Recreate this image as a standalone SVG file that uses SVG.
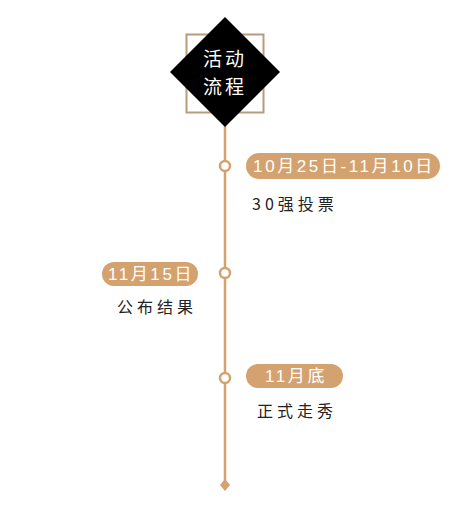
<svg xmlns="http://www.w3.org/2000/svg" width="450" height="511" viewBox="0 0 450 511">
<style>
.pill{fill:#d4a26f}
.pt{font-family:"Liberation Sans","Noto Sans CJK SC",sans-serif;font-size:17px;fill:#ffffff;letter-spacing:2.6px}
.lb{font-family:"Noto Sans CJK SC",sans-serif;font-size:16px;fill:#222222;letter-spacing:4px}
.dot{fill:#ffffff;stroke:#d4a26f;stroke-width:2.5}
</style>
<rect width="450" height="511" fill="#ffffff"/>
<g id="connectors">
<line x1="225" y1="120" x2="225" y2="484" stroke="#d4a26f" stroke-width="2.5"/>
<path d="M225 479 L230 485 L225 491 L220 485 Z" fill="#d4a26f"/>
</g>
<g id="title">
<rect x="186.5" y="34.5" width="77" height="78" fill="none" stroke="#b89a7c" stroke-width="2"/>
<path d="M225 17 L280 72 L225 127 L170 72 Z" fill="#000000"/>
<text x="225" y="66" text-anchor="middle" font-family="Noto Sans CJK SC,sans-serif" font-size="19" fill="#ffffff" letter-spacing="3">活动</text>
<text x="225" y="94" text-anchor="middle" font-family="Noto Sans CJK SC,sans-serif" font-size="19" fill="#ffffff" letter-spacing="3">流程</text>
</g>
<g id="step1">
<circle class="dot" cx="225" cy="166" r="5"/>
<rect class="pill" x="246" y="153" width="194" height="26" rx="13"/>
<text class="pt" x="344" y="172" text-anchor="middle">10月25日-11月10日</text>
<text class="lb" x="252" y="210">30强投票</text>
</g>
<g id="step2">
<circle class="dot" cx="225" cy="273" r="5"/>
<rect class="pill" x="102" y="262" width="96" height="24" rx="12"/>
<text class="pt" x="151" y="280" text-anchor="middle">11月15日</text>
<text class="lb" x="117" y="313">公布结果</text>
</g>
<g id="step3">
<circle class="dot" cx="225" cy="378" r="5"/>
<rect class="pill" x="246" y="364" width="97" height="24" rx="12"/>
<text class="pt" x="296" y="382" text-anchor="middle">11月底</text>
<text class="lb" x="257" y="417">正式走秀</text>
</g>
</svg>
